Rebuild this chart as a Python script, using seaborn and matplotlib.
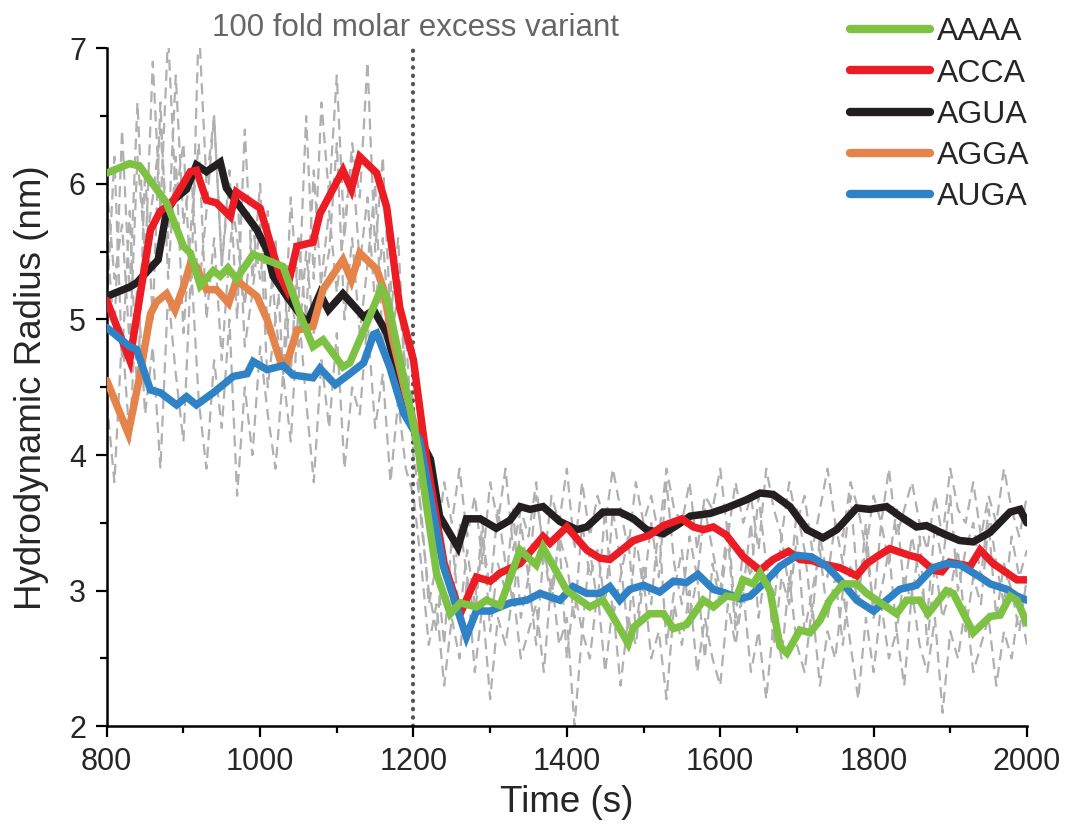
import numpy as np
import pandas as pd
import matplotlib
matplotlib.use("Agg")
import matplotlib.pyplot as plt
from matplotlib.lines import Line2D
from matplotlib.ticker import MultipleLocator
import seaborn as sns

# ---------------- smoothed traces ----------------
aaaa_t = [800, 830, 843, 878, 900, 909, 922, 939, 948, 958, 969, 991, 1030, 1052, 1069, 1082, 1108,
          1117, 1139, 1158, 1165, 1195, 1206, 1230, 1248, 1261, 1282, 1295, 1313, 1339, 1360, 1369,
          1400, 1430, 1447, 1460, 1480, 1487, 1508, 1526, 1539, 1556, 1578, 1591, 1608, 1621, 1630,
          1643, 1652, 1665, 1678, 1687, 1704, 1717, 1730, 1743, 1760, 1778, 1791, 1804, 1830, 1843,
          1860, 1871, 1895, 1904, 1930, 1952, 1965, 1978, 1987, 2000]
aaaa_r = [6.08, 6.15, 6.13, 5.86, 5.54, 5.49, 5.25, 5.36, 5.32, 5.38, 5.30, 5.48, 5.39, 5.04, 4.80,
          4.85, 4.65, 4.68, 4.97, 5.23, 5.17, 4.36, 4.05, 3.13, 2.83, 2.91, 2.88, 2.93, 2.89, 3.30,
          3.19, 3.32, 3.00, 2.88, 2.93, 2.81, 2.61, 2.73, 2.83, 2.83, 2.72, 2.75, 2.93, 2.88, 2.96,
          2.95, 3.08, 3.05, 3.13, 3.00, 2.59, 2.54, 2.71, 2.69, 2.78, 2.93, 3.05, 3.05, 2.98, 2.93,
          2.83, 2.93, 2.93, 2.83, 3.00, 2.98, 2.69, 2.81, 2.82, 2.96, 2.93, 2.76]

acca_t = [800, 830, 857, 870, 885, 909, 917, 930, 943, 961, 969, 1000, 1026, 1035, 1048, 1069, 1078,
          1108, 1119, 1130, 1152, 1165, 1182, 1200, 1217, 1240, 1261, 1282, 1300, 1313, 1339, 1369,
          1378, 1400, 1426, 1443, 1456, 1487, 1508, 1526, 1550, 1565, 1578, 1591, 1608, 1630, 1652,
          1669, 1689, 1704, 1721, 1730, 1756, 1778, 1791, 1804, 1821, 1847, 1860, 1878, 1889, 1899,
          1926, 1939, 1956, 1974, 1987, 2000]
acca_r = [5.14, 4.70, 5.66, 5.80, 5.86, 6.09, 6.10, 5.88, 5.86, 5.76, 5.94, 5.82, 5.32, 5.22, 5.54,
          5.57, 5.78, 6.10, 5.96, 6.20, 6.08, 5.83, 5.09, 4.70, 3.97, 3.20, 2.83, 3.10, 3.07, 3.13,
          3.20, 3.40, 3.35, 3.47, 3.30, 3.24, 3.23, 3.37, 3.41, 3.48, 3.53, 3.47, 3.45, 3.47, 3.41,
          3.25, 3.15, 3.23, 3.29, 3.23, 3.22, 3.20, 3.17, 3.11, 3.20, 3.25, 3.31, 3.26, 3.24, 3.15,
          3.14, 3.21, 3.18, 3.30, 3.20, 3.13, 3.08, 3.08]

agua_t = [800, 830, 839, 857, 867, 878, 887, 904, 917, 930, 948, 956, 974, 996, 1009, 1017, 1035,
          1061, 1078, 1089, 1108, 1135, 1148, 1165, 1182, 1200, 1222, 1234, 1258, 1269, 1287, 1308,
          1326, 1339, 1352, 1369, 1391, 1413, 1426, 1447, 1469, 1487, 1504, 1526, 1543, 1561, 1587,
          1608, 1621, 1634, 1652, 1669, 1691, 1713, 1734, 1752, 1778, 1795, 1817, 1834, 1856, 1869,
          1891, 1912, 1930, 1952, 1978, 1991, 2000]
agua_r = [5.17, 5.24, 5.27, 5.38, 5.44, 5.80, 5.88, 5.96, 6.14, 6.09, 6.16, 5.97, 5.83, 5.66, 5.51,
          5.32, 5.17, 4.97, 5.19, 5.07, 5.19, 5.02, 5.07, 4.90, 4.55, 4.21, 3.97, 3.55, 3.32, 3.53,
          3.53, 3.46, 3.52, 3.62, 3.60, 3.62, 3.51, 3.45, 3.47, 3.58, 3.58, 3.53, 3.45, 3.42, 3.48,
          3.55, 3.57, 3.61, 3.64, 3.67, 3.72, 3.71, 3.62, 3.45, 3.39, 3.45, 3.61, 3.60, 3.62, 3.55,
          3.47, 3.48, 3.42, 3.37, 3.36, 3.43, 3.58, 3.60, 3.50]

agga_t = [800, 828, 843, 857, 865, 878, 889, 900, 909, 917, 930, 943, 959, 969, 996, 1009, 1026,
          1035, 1048, 1069, 1082, 1108, 1119, 1130, 1152, 1160, 1173, 1190, 1205]
agga_r = [4.55, 4.16, 4.58, 5.04, 5.13, 5.19, 5.07, 5.24, 5.41, 5.39, 5.22, 5.22, 5.12, 5.29, 5.17,
          5.00, 4.70, 4.68, 4.92, 4.95, 5.22, 5.44, 5.29, 5.49, 5.37, 5.24, 4.85, 4.45, 4.15]

auga_t = [800, 830, 839, 857, 870, 891, 904, 917, 939, 965, 983, 991, 1009, 1030, 1043, 1069, 1078,
          1098, 1117, 1135, 1148, 1152, 1169, 1187, 1208, 1239, 1269, 1282, 1300, 1326, 1348, 1365,
          1391, 1408, 1426, 1443, 1456, 1469, 1482, 1500, 1521, 1539, 1556, 1571, 1591, 1608, 1626,
          1639, 1656, 1678, 1700, 1719, 1739, 1756, 1778, 1800, 1817, 1834, 1856, 1878, 1895, 1913,
          1939, 1952, 1974, 1987, 2000]
auga_r = [4.94, 4.80, 4.78, 4.48, 4.46, 4.37, 4.43, 4.37, 4.46, 4.58, 4.60, 4.69, 4.63, 4.66, 4.59,
          4.57, 4.64, 4.52, 4.60, 4.68, 4.89, 4.90, 4.65, 4.31, 4.11, 3.18, 2.66, 2.85, 2.85, 2.91,
          2.93, 2.98, 2.93, 3.03, 2.98, 2.98, 3.03, 2.93, 3.01, 3.04, 2.99, 3.07, 3.06, 3.12, 3.01,
          2.98, 2.94, 2.96, 3.05, 3.18, 3.26, 3.25, 3.18, 3.08, 2.93, 2.85, 2.93, 3.01, 3.04, 3.17,
          3.20, 3.19, 3.10, 3.05, 3.01, 2.96, 2.93]

# ---------------- raw measurements (10 s sampling) ----------------
raw_pre = [  # 800 ... 1200 s
    [5.6, 4.9, 6.4, 5.2, 6.6, 5.4, 6.9, 5.8, 7.1, 5.9, 6.3, 5.2, 7.2, 6.0, 6.5, 5.4, 6.1, 5.0, 6.4,
     5.3, 6.0, 4.9, 5.6, 4.6, 5.9, 5.1, 6.5, 5.3, 6.6, 5.9, 6.8, 5.6, 6.3, 5.9, 6.9, 5.5, 6.2, 5.0,
     5.6, 4.5, 4.2],
    [4.4, 3.8, 4.9, 4.1, 5.3, 4.3, 4.8, 3.9, 5.2, 4.6, 4.1, 5.4, 4.4, 3.9, 4.7, 4.2, 5.0, 3.7, 4.5,
     4.0, 4.8, 4.3, 3.9, 4.6, 4.1, 5.1, 4.4, 3.8, 4.7, 4.2, 4.9, 3.9, 4.5, 4.3, 5.0, 4.2, 4.6, 3.8,
     4.4, 3.9, 3.7],
    [6.0, 5.3, 5.7, 4.8, 6.2, 5.5, 5.9, 6.4, 5.6, 6.8, 5.7, 6.1, 5.2, 5.8, 6.5, 5.4, 6.0, 5.6, 5.1,
     5.7, 5.3, 5.8, 5.0, 4.6, 5.2, 4.8, 5.5, 4.9, 5.3, 5.8, 5.2, 5.7, 6.2, 5.4, 5.9, 5.1, 5.6, 4.8,
     5.2, 4.6, 4.4],
    [5.1, 6.2, 4.7, 5.8, 4.4, 6.1, 5.0, 6.6, 5.3, 6.2, 4.9, 5.7, 6.3, 5.0, 5.6, 4.7, 5.5, 6.0, 4.8,
     5.2, 5.7, 4.5, 5.0, 5.4, 4.6, 5.6, 5.0, 6.1, 5.2, 5.5, 6.3, 5.0, 5.6, 4.9, 5.4, 6.0, 4.8, 5.3,
     4.4, 4.9, 4.0],
]
raw_post = [  # 1210 ... 2000 s
    [3.9, 3.6, 3.3, 3.8, 3.5, 3.9, 3.4, 3.7, 3.2, 3.8, 3.5, 3.9, 3.3, 3.6, 3.4, 3.8, 3.2, 3.7, 3.5,
     3.9, 3.3, 3.8, 3.4, 3.7, 3.5, 3.9, 3.6, 3.3, 3.8, 3.5, 3.7, 3.4, 3.9, 3.6, 3.5, 3.8, 3.3, 3.7,
     3.6, 3.9, 3.4, 3.8, 3.5, 3.7, 3.3, 3.9, 3.6, 3.4, 3.8, 3.5, 3.7, 3.3, 3.6, 3.9, 3.5, 3.4, 3.8,
     3.6, 3.3, 3.7, 3.5, 3.9, 3.4, 3.6, 3.8, 3.5, 3.3, 3.7, 3.4, 3.9, 3.6, 3.5, 3.8, 3.4, 3.7, 3.5,
     3.9, 3.6, 3.4, 3.7],
    [3.2, 2.6, 2.9, 2.3, 2.8, 2.5, 3.1, 2.4, 2.9, 2.2, 2.8, 2.6, 3.0, 2.5, 2.7, 2.9, 2.4, 3.1, 2.6,
     2.8, 2.0, 2.7, 2.5, 3.0, 2.4, 2.9, 2.3, 2.8, 2.6, 3.1, 2.5, 2.7, 2.2, 2.9, 2.6, 3.0, 2.4, 2.8,
     2.5, 2.3, 2.9, 2.6, 3.0, 2.4, 2.7, 2.2, 2.8, 2.5, 3.1, 2.6, 2.4, 2.9, 2.3, 2.7, 2.5, 3.0, 2.6,
     2.2, 2.8, 2.4, 2.9, 2.5, 2.7, 2.3, 3.0, 2.6, 2.4, 2.8, 2.1, 2.7, 2.5, 2.9, 2.4, 2.6, 2.8, 2.3,
     2.7, 2.5, 2.9, 2.6],
    [3.5, 3.0, 2.7, 3.3, 2.9, 3.5, 3.1, 2.8, 3.4, 3.0, 3.6, 3.2, 2.9, 3.5, 3.1, 3.7, 3.3, 3.0, 3.4,
     3.2, 2.8, 3.5, 3.1, 3.3, 2.9, 3.6, 3.2, 2.7, 3.4, 3.0, 3.5, 3.1, 3.8, 3.2, 2.9, 3.4, 3.1, 3.6,
     3.3, 3.0, 3.5, 2.8, 3.3, 3.1, 3.7, 3.2, 2.9, 3.4, 3.0, 3.6, 3.3, 2.8, 3.4, 3.1, 3.5, 3.2, 3.7,
     3.0, 3.3, 2.9, 3.5, 3.2, 3.6, 3.0, 3.4, 3.1, 2.8, 3.5, 3.2, 3.7, 3.0, 3.3, 3.5, 3.1, 3.6, 3.2,
     2.9, 3.4, 3.1, 3.3],
    [3.6, 2.9, 3.2, 2.6, 3.4, 2.8, 3.3, 2.9, 3.5, 2.7, 3.2, 3.0, 3.6, 2.8, 3.1, 2.6, 3.3, 2.9, 3.4,
     2.5, 3.0, 2.7, 3.3, 2.9, 3.6, 2.8, 3.1, 3.4, 2.7, 3.2, 2.9, 3.5, 2.6, 3.0, 3.3, 2.8, 3.1, 2.5,
     3.2, 2.9, 3.4, 2.7, 3.0, 3.5, 2.8, 3.2, 2.6, 3.1, 2.9, 3.4, 2.7, 3.0, 3.3, 2.8, 3.1, 2.6, 3.2,
     2.9, 3.5, 2.8, 3.0, 3.3, 2.7, 3.1, 2.9, 3.4, 2.6, 3.2, 2.8, 3.0, 3.3, 2.7, 3.1, 2.9, 3.5, 2.8,
     3.2, 3.0, 2.7, 3.1],
]

labels = ["AAAA", "ACCA", "AGUA", "AGGA", "AUGA"]
colors = {"AAAA": "#7dc242", "ACCA": "#ec1c24", "AGUA": "#231f20",
          "AGGA": "#e4844a", "AUGA": "#2f82c6"}
series = {"AAAA": (aaaa_t, aaaa_r), "ACCA": (acca_t, acca_r), "AGUA": (agua_t, agua_r),
          "AGGA": (agga_t, agga_r), "AUGA": (auga_t, auga_r)}
draw_order = ["AGUA", "AGGA", "ACCA", "AUGA", "AAAA"]

sns.set_style("ticks")
plt.rcParams["font.family"] = ["Liberation Sans", "DejaVu Sans"]

fig = plt.figure(figsize=(10.75, 8.31), dpi=100)
ax = fig.add_axes([0.0993, 0.126, 0.8560, 0.8159])

# raw gray traces
for pre, post in zip(raw_pre, raw_post):
    t = np.concatenate([800 + 10 * np.arange(len(pre)), 1210 + 10 * np.arange(len(post))])
    r = np.concatenate([pre, post])
    df_raw = pd.DataFrame({"time": t, "radius": r})
    sns.lineplot(data=df_raw, x="time", y="radius", ax=ax, color="#b0b0b0", lw=1.6,
                 linestyle=(0, (5, 3)), estimator=None, sort=False, zorder=1)

# smoothed traces
for name in draw_order:
    tt, rr = series[name]
    df = pd.DataFrame({"time": tt, "radius": rr})
    sns.lineplot(data=df, x="time", y="radius", ax=ax, color=colors[name], lw=5.4,
                 estimator=None, sort=False, zorder=3, solid_joinstyle="miter")

ax.axvline(1200, color="#555555", lw=3, linestyle=(0, (0.1, 1.9)),
           dash_capstyle="round", zorder=2)

ax.set_xlim(800, 2000)
ax.set_ylim(2, 7)
ax.xaxis.set_major_locator(MultipleLocator(200))
ax.xaxis.set_minor_locator(MultipleLocator(100))
ax.yaxis.set_major_locator(MultipleLocator(1))
ax.yaxis.set_minor_locator(MultipleLocator(0.5))
ax.tick_params(which="major", direction="out", length=8, width=1.6, labelsize=22,
               color="black", pad=7)
ax.tick_params(which="minor", direction="out", length=5, width=1.6, color="black")
sns.despine(ax=ax)
for s in ["left", "bottom"]:
    ax.spines[s].set_linewidth(1.8)
    ax.spines[s].set_color("black")

ax.set_xlabel("Time (s)", fontsize=26.5, labelpad=6)
ax.set_ylabel("Hydrodynamic Radius (nm)", fontsize=26.5, labelpad=14)

ax.text(1203, 1.018, "100 fold molar excess variant", transform=ax.get_xaxis_transform(),
        ha="center", va="baseline", fontsize=22.5, color="#666666")

handles = [Line2D([0], [0], color=colors[n], lw=6, solid_capstyle="round") for n in labels]
fig.legend(handles, labels, loc="upper left", bbox_to_anchor=(0.791, 0.979), frameon=False,
           fontsize=23, handlelength=2.5, handletextpad=0.2, labelspacing=0.35,
           borderpad=0, borderaxespad=0)

fig.savefig("out.png", dpi=100)
